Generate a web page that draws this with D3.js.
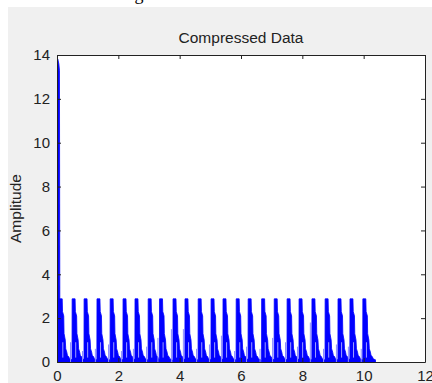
<!DOCTYPE html>
<html>
<head>
<meta charset="utf-8">
<script src="https://cdn.jsdelivr.net/npm/d3@7"></script>
<style>
  body { margin: 0; background: #fff; }
  svg { display: block; font-family: "Liberation Sans", Arial, sans-serif; }
</style>
</head>
<body>
<div id="chart"></div>
<script>
// tick labels
const xTicks = [0, 2, 4, 6, 8, 10, 12];
const yTicks = [0, 2, 4, 6, 8, 10, 12, 14];

// initial spike at t = 0
const spikeX = [0, 0.004, 0.03, 0.06, 0.08, 0.095];
const spikeY = [0, 13.85, 13.8, 13.6, 13.3, 0];

// onsets of the repeated pulses
const pulseOnsets = [0.07, 0.49, 0.88, 1.30, 1.73, 2.15, 2.54, 2.97, 3.34, 3.78, 4.17, 4.60, 5.02,
  5.41, 5.84, 6.23, 6.67, 7.08, 7.50, 7.89, 8.31, 8.74, 9.16, 9.55, 9.97];

// envelope of one pulse: offset from onset and amplitude
const pulseDx = [0, 0.004, 0.1, 0.11, 0.15, 0.16, 0.2, 0.215, 0.25, 0.27, 0.31, 0.34, 0.38, 0.415];
const pulseY = [0.1, 2.88, 2.88, 2.3, 2.1, 1.3, 1.0, 0.6, 0.45, 0.3, 0.25, 0.15, 0.12, 0.1];

// faint thin line just before each pulse edge
const preSpike = [0, 0.9, 0.5, 0.6, 0.8, 0.5, 0.6, 0.7, 1.1, 1.5, 1.5, 0.6, 0.8, 1.2, 0.5, 0.7,
  0.6, 1.1, 0.9, 0.7, 1.8, 0.6, 0.8, 0.7, 0.6];

const width = 432;
const height = 383;
const margin = { top: 55, right: 7, bottom: 21, left: 57 };

const svg = d3.select('#chart')
  .append('svg')
  .attr('width', width)
  .attr('height', height);

// figure background (screenshot crop: white strip top/left)
svg.append('rect')
  .attr('x', 8).attr('y', 7)
  .attr('width', width - 8).attr('height', height - 7)
  .attr('fill', '#f0f0f0');

// cut-off caption line of the surrounding document, only its bottom shows
svg.append('text')
  .attr('x', 8).attr('y', 0)
  .style('font-family', '"Liberation Serif", "Times New Roman", serif')
  .style('font-size', '18px')
  .attr('fill', '#000')
  .text('The result of using the above scheme');

const x = d3.scaleLinear()
  .domain([0, 12])
  .range([margin.left, width - margin.right]);

const y = d3.scaleLinear()
  .domain([0, 14])
  .range([height - margin.bottom, margin.top]);

// plot area
svg.append('rect')
  .attr('x', x(0)).attr('y', y(14))
  .attr('width', x(12) - x(0)).attr('height', y(0) - y(14))
  .attr('fill', '#fff');

svg.append('clipPath').attr('id', 'clip')
  .append('rect')
  .attr('x', x(0)).attr('y', y(14))
  .attr('width', x(12) - x(0)).attr('height', y(0) - y(14));

const plot = svg.append('g').attr('clip-path', 'url(#clip)');

const area = d3.area()
  .x(d => x(d[0]))
  .y0(y(0))
  .y1(d => y(d[1]));

// pulses
pulseOnsets.forEach((t0, i) => {
  // faint line before the edge
  plot.append('line')
    .attr('x1', x(t0) - 1.5).attr('x2', x(t0) - 1.5)
    .attr('y1', y(0)).attr('y2', y(preSpike[i]))
    .attr('stroke', '#8c8cff')
    .attr('stroke-width', 1);

  const pts = pulseDx.map((dx, j) => [t0 + dx, pulseY[j]]);
  plot.append('path')
    .datum(pts)
    .attr('d', area)
    .attr('fill', '#0000ff')
    .attr('stroke', '#0000ff')
    .attr('stroke-width', 0.8);

  // pale gap inside the decay
  plot.append('line')
    .attr('x1', x(t0 + 0.12)).attr('x2', x(t0 + 0.12))
    .attr('y1', y(0.2)).attr('y2', y(0.9))
    .attr('stroke', '#c8c8ff')
    .attr('stroke-width', 0.8);
});

// spike
plot.append('path')
  .datum(spikeX.map((v, i) => [v, spikeY[i]]))
  .attr('d', area)
  .attr('fill', '#0000ff')
  .attr('stroke', '#0000ff')
  .attr('stroke-width', 0.8);

// axes with inward ticks
const axisColor = '#222';

const gx = svg.append('g')
  .attr('transform', `translate(0,${y(0)})`)
  .call(d3.axisBottom(x).tickValues(xTicks).tickSize(-4).tickSizeOuter(0).tickPadding(8));

const gy = svg.append('g')
  .attr('transform', `translate(${x(0)},0)`)
  .call(d3.axisLeft(y).tickValues(yTicks).tickSize(-4).tickSizeOuter(0).tickPadding(7));

const gt = svg.append('g')
  .attr('transform', `translate(0,${y(14)})`)
  .call(d3.axisTop(x).tickValues(xTicks).tickSize(-4).tickSizeOuter(0).tickFormat(''));

const gr = svg.append('g')
  .attr('transform', `translate(${x(12)},0)`)
  .call(d3.axisRight(y).tickValues(yTicks).tickSize(-4).tickSizeOuter(0).tickFormat(''));

[gx, gy, gt, gr].forEach(g => {
  g.select('.domain').attr('stroke', axisColor);
  g.selectAll('.tick line').attr('stroke', axisColor);
  g.selectAll('.tick text')
    .attr('fill', axisColor)
    .style('font-size', '15px')
    .style('font-family', '"Liberation Sans", Arial, sans-serif');
});

// title
svg.append('text')
  .attr('x', (x(0) + x(12)) / 2)
  .attr('y', 43)
  .style('text-anchor', 'middle')
  .style('font-size', '15.5px')
  .attr('fill', '#222')
  .text('Compressed Data');

// Y-axis label
svg.append('text')
  .attr('transform', `translate(21,${(y(0) + y(14)) / 2}) rotate(-90)`)
  .style('text-anchor', 'middle')
  .style('font-size', '15.5px')
  .attr('fill', '#222')
  .text('Amplitude');
</script>
</body>
</html>
